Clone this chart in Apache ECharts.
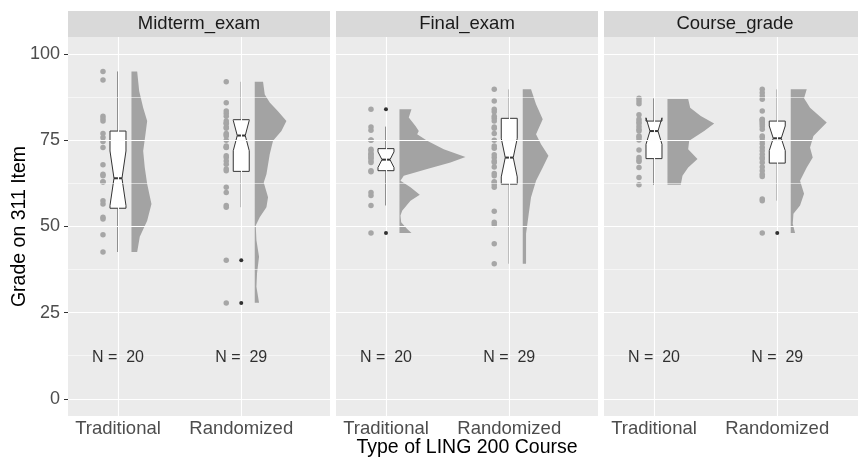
<!DOCTYPE html>
<html>
<head>
<meta charset="utf-8">
<script src="https://cdn.jsdelivr.net/npm/echarts@6/dist/echarts.min.js"></script>
<style>
html, body { margin: 0; padding: 0; background: #fff; }
#chart { width: 858px; height: 457px; }
</style>
</head>
<body>
<div id="chart"></div>
<script>
// facets and groups
var panels = ['Midterm_exam', 'Final_exam', 'Course_grade']
var groups = ['Traditional', 'Randomized']
var groupN = [20, 29]
var yTicks = [0, 25, 50, 75, 100]
var yMinor = [12.5, 37.5, 62.5, 87.5]

// raw scores
var midTrad = [95, 92.5, 82, 81.3, 80.6, 77, 75.8, 74.7, 72.9, 67.9, 65.2, 64.7, 63, 62.9, 57.5, 56.5, 52.7, 52.2, 47.6, 42.6]
var midRand = [92, 85.9, 83.5, 82.8, 82, 80.6, 80, 79.9, 78.9, 78.5, 77, 76.6, 76.3, 75, 73.4, 73, 72.9, 70.5, 70, 69, 68.1, 66.7, 66.2, 61.4, 59.9, 56.1, 55.6, 40.2, 27.8]
var finTrad = [84, 78.9, 77.9, 75.1, 75, 72.4, 72, 71.2, 71, 70.5, 70, 69.8, 69.1, 68.6, 66.2, 65.9, 59.9, 59, 56.1, 48.1]
var finRand = [89.8, 86.4, 84, 83.3, 82, 81.4, 80.6, 78.9, 78.5, 77, 75, 73.4, 72.7, 70.8, 70, 69, 68.6, 67.3, 65.4, 64.7, 63, 62.8, 62.1, 61.4, 54.4, 51.2, 50.6, 45, 39.2]
var crsTrad = [87.2, 86.4, 85.6, 82.4, 81.1, 80.4, 79.9, 79, 78.2, 77.7, 76.3, 75.8, 75.1, 72.2, 70, 69.3, 68.9, 67.1, 64.2, 62.1]
var crsRand = [89.8, 88.8, 87.9, 86.9, 83.5, 81.1, 81, 80.6, 80.2, 79.7, 79, 78.2, 76.3, 75.8, 74.9, 74, 72.9, 72, 71, 70, 69.6, 68.6, 67.3, 66.2, 65.2, 64.5, 58, 57.5, 48.1]

// box stats: [lower whisker, q1, median, q3, upper whisker]
var midTradBox = [42.6, 55.3, 64, 77.7, 95]
var midRandBox = [55.6, 66, 76.4, 81, 92]
var finTradBox = [56.1, 66.2, 69.4, 72.6, 79]
var finRandBox = [39.2, 62.3, 70, 81.4, 89.8]
var crsTradBox = [62.1, 69.7, 77.7, 80.6, 87.2]
var crsRandBox = [57.5, 68.4, 75.6, 80.6, 89.8]

// outliers
var midTradOut = []
var midRandOut = [40.2, 27.8]
var finTradOut = [84, 48.1]
var finRandOut = []
var crsTradOut = []
var crsRandOut = [48.1]

// half-violin density: [score, density]
var midTradDens = [[95, 5.7], [89.3, 7.7], [84.5, 11.7], [80.6, 15.7], [76.8, 14], [71.9, 11.7], [67.1, 13.3], [62.3, 15.7], [56.5, 20], [51.7, 15.7], [47, 8.3], [42.6, 5.7]]
var midRandDens = [[92, 8.3], [88.3, 10], [86, 15], [83.5, 23], [80.6, 31.7], [77.7, 26.7], [74.9, 18.3], [71, 15], [65.2, 11.7], [62.8, 9], [58.5, 13.3], [55.6, 11.7], [52.7, 5], [50.3, 1], [46, 1.7], [41.2, 4.3], [36.4, 2.3], [32.5, 1.7], [27.9, 4.3]]
var finTradDens = [[84, 12], [81.6, 9.3], [79.2, 16], [77.7, 19.3], [76.8, 17.7], [74.9, 27.7], [72.4, 44.3], [70.2, 66], [68.6, 51], [66.7, 27.7], [64.7, 4.3], [63.3, 1], [61.4, 11], [59.2, 20.3], [57.5, 11], [54.6, 2.7], [53.2, 1], [51.2, 1.7], [49.3, 7.7], [48.1, 12]]
var finRandDens = [[89.8, 8.3], [85.5, 13.3], [81.1, 20], [76.8, 13.3], [73.9, 18.3], [70.5, 25.7], [67.1, 20], [63.3, 13.3], [58.5, 8.3], [53.7, 6], [47.9, 3.3], [42.1, 3.3], [39.2, 3.3]]
var crsTradDens = [[87, 20.7], [84.5, 22.7], [82.1, 33.3], [79.9, 46.7], [77.7, 36.7], [74.9, 21.7], [72.4, 20.7], [69.6, 30], [67.1, 20.7], [64.7, 15], [62.1, 13.3]]
var crsRandDens = [[89.8, 16], [87.2, 13.3], [84.5, 19.3], [80.2, 36], [76.3, 22.7], [72.9, 19.3], [70, 22], [67.1, 16], [63.3, 9.3], [59.5, 13.3], [56.1, 9.3], [53.7, 2.7], [50.8, 2], [48.1, 4.3]]

var points = [[midTrad, midRand], [finTrad, finRand], [crsTrad, crsRand]]
var boxes = [[midTradBox, midRandBox], [finTradBox, finRandBox], [crsTradBox, crsRandBox]]
var outliers = [[midTradOut, midRandOut], [finTradOut, finRandOut], [crsTradOut, crsRandOut]]
var dens = [[midTradDens, midRandDens], [finTradDens, finRandDens], [crsTradDens, crsRandDens]]

var PX = 1 / 123.3  // one pixel in category units
var DOT_OFF = -15 * PX
var VIO_OFF = 13.5 * PX
var BOX_HALF = 8 * PX
var FONT = "'Liberation Sans', Arial, sans-serif"

var chart = echarts.init(document.getElementById('chart'))

var grid = [], xAxis = [], yAxis = [], series = [], graphic = []

panels.forEach(function(name, i) {
	var left = 68 + 268 * i
	grid.push({ left: left, top: 37, width: 262, height: 379, show: true, backgroundColor: '#EBEBEB', borderWidth: 0, outerBoundsMode: 'none', containLabel: false })
	graphic.push({
		type: 'group', left: left, top: 11,
		children: [
			{ type: 'rect', shape: { x: 0, y: 0, width: 262, height: 26 }, style: { fill: '#D9D9D9' } },
			{ type: 'text', x: 131, y: 13, style: { text: name, font: '18.5px ' + FONT, fill: '#1A1A1A', align: 'center', verticalAlign: 'middle' } }
		]
	})
	xAxis.push({
		type: 'value', gridIndex: i, min: 0.5945, max: 2.72,
		axisLine: { show: false }, splitLine: { show: false },
		axisTick: { show: true, customValues: [1, 2], length: 4, lineStyle: { color: '#333' } },
		axisLabel: {
			customValues: [1, 2], margin: 3, fontSize: 18.5, fontFamily: FONT, color: '#4D4D4D',
			formatter: function(v) { return groups[Math.round(v) - 1] }
		},
		name: i == 1 ? 'Type of LING 200 Course' : '',
		nameLocation: 'middle', nameGap: 22, nameMoveOverlap: false,
		nameTextStyle: { fontSize: 19.5, fontFamily: FONT, color: '#000' }
	})
	yAxis.push({
		type: 'value', gridIndex: i, min: -5, max: 105,
		axisLine: { show: false }, splitLine: { show: false },
		axisTick: { show: i == 0, customValues: yTicks, length: 4, lineStyle: { color: '#333' } },
		axisLabel: { show: i == 0, customValues: yTicks, margin: 8, fontSize: 18, fontFamily: FONT, color: '#4D4D4D' },
		name: i == 0 ? 'Grade on 311 Item' : '',
		nameLocation: 'middle', nameGap: 38, nameMoveOverlap: false,
		nameTextStyle: { fontSize: 19.5, fontFamily: FONT, color: '#000' }
	})

	// panel grid lines
	var lines = []
	yTicks.forEach(function(v) { lines.push({ yAxis: v, lineStyle: { width: 1.1 } }) })
	yMinor.forEach(function(v) { lines.push({ yAxis: v, lineStyle: { width: 0.55 } }) })
	;[1, 2].forEach(function(v) { lines.push({ xAxis: v, lineStyle: { width: 1.1 } }) })
	series.push({
		type: 'line', xAxisIndex: i, yAxisIndex: i, data: [], z: 1,
		markLine: {
			silent: true, symbol: ['none', 'none'], animation: false,
			label: { show: false },
			lineStyle: { color: '#FFFFFF', type: 'solid' },
			emphasis: { disabled: true },
			data: lines
		}
	})

	// half violins
	series.push({
		type: 'custom', xAxisIndex: i, yAxisIndex: i, z: 2, silent: true,
		data: [[1, 50], [2, 50]],
		renderItem: function(params, api) {
			var g = params.dataIndex + 1
			var d = dens[i][params.dataIndex]
			var pts = d.map(function(p) { return api.coord([g + VIO_OFF + p[1] * PX, p[0]]) })
			pts.push(api.coord([g + VIO_OFF, d[d.length - 1][0]]))
			pts.push(api.coord([g + VIO_OFF, d[0][0]]))
			return { type: 'polygon', shape: { points: pts, smooth: 0 }, style: { fill: '#A3A3A3', stroke: null } }
		}
	})

	// notched boxplots
	series.push({
		type: 'custom', xAxisIndex: i, yAxisIndex: i, z: 3, silent: true,
		data: boxes[i].map(function(b, k) { return [k + 1].concat(b).concat([groupN[k]]) }),
		encode: { x: 0, y: [1, 5] },
		renderItem: function(params, api) {
			var g = api.value(0), lo = api.value(1), q1 = api.value(2), med = api.value(3), q3 = api.value(4), hi = api.value(5), n = api.value(6)
			var notch = 1.58 * (q3 - q1) / Math.sqrt(n)
			var nlo = med - notch, nhi = med + notch
			var x0 = g - BOX_HALF, x1 = g + BOX_HALF, ind = (x1 - x0) / 4
			var P = function(x, y) { return api.coord([x, y]) }
			var line = { stroke: '#333', lineWidth: 1 }
			return {
				type: 'group',
				children: [
					{ type: 'line', shape: { x1: P(g, q3)[0], y1: P(g, q3)[1], x2: P(g, hi)[0], y2: P(g, hi)[1] }, style: line },
					{ type: 'line', shape: { x1: P(g, q1)[0], y1: P(g, q1)[1], x2: P(g, lo)[0], y2: P(g, lo)[1] }, style: line },
					{
						type: 'polygon',
						shape: { points: [P(x0, q3), P(x0, nhi), P(x0 + ind, med), P(x0, nlo), P(x0, q1), P(x1, q1), P(x1, nlo), P(x1 - ind, med), P(x1, nhi), P(x1, q3)] },
						style: { fill: '#FFFFFF', stroke: '#333', lineWidth: 1 }
					},
					{ type: 'line', shape: { x1: P(x0 + ind, med)[0], y1: P(x0 + ind, med)[1], x2: P(x1 - ind, med)[0], y2: P(x1 - ind, med)[1] }, style: { stroke: '#333', lineWidth: 2 } }
				]
			}
		}
	})

	// raw points
	var dots = []
	points[i].forEach(function(arr, k) { arr.forEach(function(v) { dots.push([k + 1 + DOT_OFF, v]) }) })
	series.push({
		type: 'scatter', xAxisIndex: i, yAxisIndex: i, z: 4, silent: true,
		symbolSize: 5.5, itemStyle: { color: '#A6A6A6', opacity: 1 }, data: dots
	})

	// outliers
	var outs = []
	outliers[i].forEach(function(arr, k) { arr.forEach(function(v) { outs.push([k + 1, v]) }) })
	series.push({
		type: 'scatter', xAxisIndex: i, yAxisIndex: i, z: 5, silent: true,
		symbolSize: 4, itemStyle: { color: '#000' }, data: outs
	})

	// sample size labels
	series.push({
		type: 'scatter', xAxisIndex: i, yAxisIndex: i, z: 5, silent: true,
		symbolSize: 0,
		data: groupN.map(function(n, k) { return { value: [k + 1, 12], n: n } }),
		label: {
			show: true, position: 'inside', fontSize: 16, fontFamily: FONT, color: '#000',
			formatter: function(p) { return 'N =  ' + groupN[p.dataIndex] }
		}
	})
})

chart.setOption({
	animation: false,
	grid: grid,
	xAxis: xAxis,
	yAxis: yAxis,
	graphic: graphic,
	series: series
})
</script>
</body>
</html>
